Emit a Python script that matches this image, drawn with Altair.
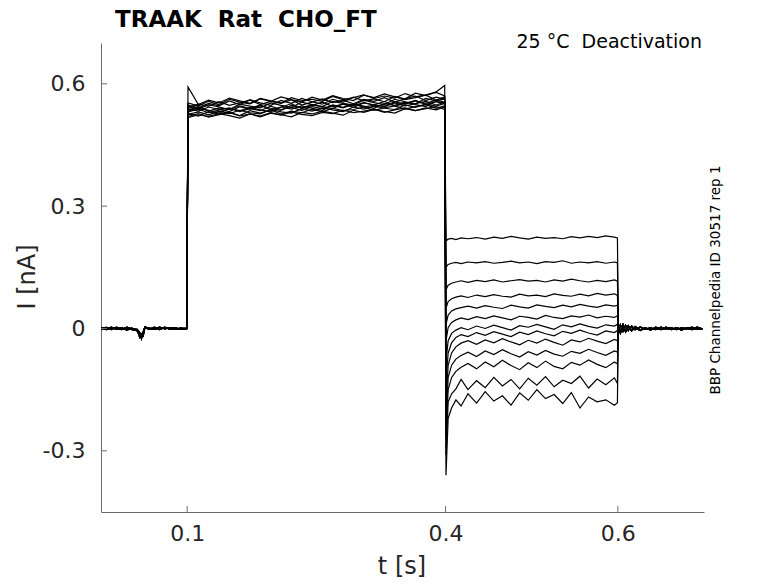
import altair as alt
import pandas as pd

# ---------------- data ----------------
t_base = [0.0, 0.006, 0.012, 0.018, 0.024, 0.030, 0.036, 0.042, 0.045, 0.047,
          0.049, 0.051, 0.056, 0.062, 0.068, 0.074, 0.080, 0.086, 0.092, 0.0995]
base_a = [0.002, -0.003, 0.003, -0.002, 0.002, -0.004, 0.001, -0.006, -0.015, -0.020,
          -0.012, 0.003, 0.001, -0.002, 0.003, -0.001, 0.002, -0.002, 0.001, 0.000]
base_b = [-0.002, 0.002, -0.003, 0.003, -0.002, 0.002, -0.003, -0.004, -0.022, -0.013,
          -0.018, 0.002, -0.002, 0.003, -0.002, 0.002, -0.001, 0.002, -0.002, 0.001]
base_c = [0.000, 0.003, -0.001, 0.001, -0.003, 0.003, -0.001, -0.002, -0.010, -0.025,
          -0.008, 0.004, -0.001, 0.001, -0.003, 0.003, -0.002, 0.001, -0.001, -0.001]

t_act = [0.101, 0.113, 0.125, 0.137, 0.149, 0.161, 0.173, 0.185, 0.197, 0.209, 0.221, 0.233, 0.245,
         0.257, 0.269, 0.281, 0.293, 0.305, 0.317, 0.329, 0.341, 0.353, 0.365, 0.377, 0.389, 0.399]
a01 = [0.548, 0.541, 0.552, 0.546, 0.558, 0.549, 0.561, 0.553, 0.547, 0.559, 0.552, 0.564, 0.556,
       0.550, 0.562, 0.555, 0.567, 0.558, 0.563, 0.556, 0.569, 0.561, 0.566, 0.572, 0.560, 0.568]
a02 = [0.536, 0.544, 0.533, 0.541, 0.537, 0.546, 0.539, 0.548, 0.536, 0.543, 0.551, 0.540, 0.547,
       0.555, 0.544, 0.550, 0.542, 0.553, 0.548, 0.557, 0.545, 0.552, 0.559, 0.549, 0.556, 0.551]
a03 = [0.527, 0.521, 0.532, 0.525, 0.530, 0.522, 0.534, 0.528, 0.536, 0.526, 0.533, 0.529, 0.538,
       0.531, 0.540, 0.534, 0.537, 0.543, 0.535, 0.541, 0.546, 0.538, 0.544, 0.549, 0.540, 0.546]
a04 = [0.542, 0.550, 0.545, 0.556, 0.547, 0.553, 0.560, 0.549, 0.557, 0.552, 0.561, 0.548, 0.555,
       0.563, 0.554, 0.560, 0.551, 0.562, 0.557, 0.566, 0.555, 0.563, 0.570, 0.559, 0.567, 0.562]
a05 = [0.531, 0.538, 0.529, 0.536, 0.541, 0.532, 0.539, 0.534, 0.545, 0.537, 0.542, 0.535, 0.544,
       0.539, 0.547, 0.541, 0.550, 0.543, 0.548, 0.544, 0.553, 0.546, 0.551, 0.557, 0.548, 0.555]
a06 = [0.520, 0.527, 0.518, 0.524, 0.530, 0.521, 0.526, 0.519, 0.528, 0.523, 0.531, 0.525, 0.522,
       0.530, 0.527, 0.535, 0.529, 0.533, 0.538, 0.530, 0.536, 0.541, 0.534, 0.539, 0.544, 0.537]
a07 = [0.553, 0.546, 0.557, 0.549, 0.562, 0.555, 0.551, 0.564, 0.558, 0.553, 0.566, 0.559, 0.562,
       0.557, 0.569, 0.561, 0.566, 0.573, 0.564, 0.570, 0.565, 0.576, 0.568, 0.573, 0.579, 0.570]
a08 = [0.539, 0.533, 0.543, 0.537, 0.532, 0.544, 0.538, 0.546, 0.540, 0.535, 0.547, 0.541, 0.549,
       0.544, 0.539, 0.551, 0.546, 0.554, 0.548, 0.545, 0.556, 0.550, 0.558, 0.552, 0.560, 0.555]
a09 = [0.525, 0.531, 0.524, 0.533, 0.527, 0.535, 0.529, 0.526, 0.537, 0.531, 0.528, 0.539, 0.533,
       0.541, 0.536, 0.532, 0.543, 0.538, 0.545, 0.540, 0.537, 0.548, 0.542, 0.550, 0.545, 0.552]
a10 = [0.544, 0.538, 0.549, 0.543, 0.537, 0.550, 0.545, 0.541, 0.553, 0.547, 0.542, 0.555, 0.549,
       0.544, 0.557, 0.552, 0.548, 0.560, 0.554, 0.549, 0.562, 0.556, 0.551, 0.564, 0.558, 0.563]
a11 = [0.533, 0.540, 0.535, 0.528, 0.539, 0.534, 0.542, 0.536, 0.531, 0.543, 0.538, 0.546, 0.540,
       0.535, 0.548, 0.542, 0.550, 0.545, 0.540, 0.552, 0.547, 0.555, 0.549, 0.544, 0.557, 0.552]
a12 = [0.517, 0.524, 0.520, 0.527, 0.522, 0.516, 0.526, 0.521, 0.529, 0.524, 0.519, 0.530, 0.526,
       0.533, 0.528, 0.523, 0.535, 0.530, 0.537, 0.532, 0.528, 0.539, 0.534, 0.541, 0.536, 0.543]
a13 = [0.592, 0.549, 0.560, 0.553, 0.565, 0.558, 0.552, 0.563, 0.557, 0.568, 0.561, 0.555, 0.567,
       0.560, 0.571, 0.564, 0.559, 0.572, 0.566, 0.575, 0.568, 0.563, 0.577, 0.571, 0.580, 0.596]

t_deact = [0.4005, 0.403, 0.407, 0.412, 0.418, 0.426, 0.436, 0.446, 0.456, 0.466, 0.476, 0.486,
           0.496, 0.506, 0.516, 0.526, 0.536, 0.546, 0.556, 0.566, 0.576, 0.586, 0.596, 0.5995]
d01 = [0.215, 0.219, 0.221, 0.218, 0.222, 0.220, 0.223, 0.219, 0.224, 0.221, 0.226, 0.222,
       0.219, 0.224, 0.221, 0.223, 0.220, 0.225, 0.222, 0.226, 0.223, 0.227, 0.224, 0.222]
d02 = [0.150, 0.157, 0.160, 0.162, 0.159, 0.163, 0.161, 0.164, 0.160, 0.162, 0.165, 0.161,
       0.163, 0.159, 0.164, 0.162, 0.166, 0.160, 0.163, 0.161, 0.164, 0.160, 0.163, 0.161]
d03 = [0.095, 0.106, 0.111, 0.114, 0.117, 0.113, 0.118, 0.115, 0.119, 0.114, 0.117, 0.120,
       0.116, 0.118, 0.114, 0.119, 0.116, 0.121, 0.117, 0.114, 0.118, 0.115, 0.119, 0.116]
d04 = [0.050, 0.066, 0.073, 0.077, 0.080, 0.076, 0.082, 0.078, 0.083, 0.079, 0.077, 0.084,
       0.080, 0.082, 0.078, 0.085, 0.081, 0.079, 0.084, 0.080, 0.086, 0.082, 0.085, 0.081]
d05 = [0.010, 0.033, 0.043, 0.048, 0.051, 0.055, 0.050, 0.056, 0.052, 0.049, 0.057, 0.053,
       0.050, 0.058, 0.054, 0.051, 0.057, 0.053, 0.059, 0.055, 0.052, 0.058, 0.055, 0.057]
d06 = [-0.030, 0.002, 0.015, 0.021, 0.026, 0.022, 0.029, 0.024, 0.031, 0.026, 0.021, 0.030,
       0.027, 0.023, 0.032, 0.027, 0.024, 0.031, 0.028, 0.033, 0.026, 0.030, 0.027, 0.031]
d07 = [-0.080, -0.030, -0.012, -0.004, 0.002, -0.003, 0.006, 0.000, 0.008, 0.002, -0.004, 0.007,
       0.003, 0.010, 0.004, -0.002, 0.009, 0.004, 0.011, 0.005, 0.001, 0.009, 0.006, 0.010]
d08 = [-0.130, -0.060, -0.035, -0.022, -0.015, -0.020, -0.010, -0.017, -0.008, -0.014, -0.020, -0.009,
       -0.015, -0.006, -0.013, -0.018, -0.007, -0.012, -0.004, -0.011, -0.016, -0.006, -0.010, -0.005]
d09 = [-0.180, -0.090, -0.060, -0.045, -0.036, -0.030, -0.039, -0.028, -0.035, -0.025, -0.033, -0.040,
       -0.029, -0.036, -0.026, -0.034, -0.041, -0.028, -0.033, -0.024, -0.031, -0.037, -0.027, -0.030]
d10 = [-0.230, -0.120, -0.090, -0.075, -0.066, -0.058, -0.069, -0.055, -0.064, -0.052, -0.062, -0.070,
       -0.057, -0.065, -0.054, -0.063, -0.068, -0.056, -0.061, -0.051, -0.059, -0.066, -0.055, -0.058]
d11 = [-0.270, -0.150, -0.120, -0.105, -0.095, -0.086, -0.099, -0.082, -0.094, -0.078, -0.091, -0.101,
       -0.084, -0.096, -0.080, -0.093, -0.099, -0.083, -0.090, -0.077, -0.088, -0.096, -0.082, -0.087]
d12 = [-0.310, -0.180, -0.160, -0.148, -0.125, -0.150, -0.128, -0.145, -0.120, -0.141, -0.125, -0.148,
       -0.122, -0.139, -0.118, -0.143, -0.127, -0.135, -0.117, -0.146, -0.124, -0.138, -0.121, -0.135]
d13 = [-0.360, -0.220, -0.195, -0.175, -0.190, -0.160, -0.183, -0.155, -0.178, -0.165, -0.188, -0.158,
       -0.176, -0.150, -0.172, -0.162, -0.184, -0.157, -0.195, -0.168, -0.180, -0.175, -0.188, -0.182]

t_tail = [0.6005, 0.603, 0.606, 0.609, 0.612, 0.616, 0.620, 0.626, 0.632, 0.638,
          0.644, 0.650, 0.656, 0.662, 0.668, 0.674, 0.680, 0.686, 0.692, 0.698]
tail_a = [0.012, -0.008, 0.010, -0.006, 0.007, -0.004, 0.005, -0.003, 0.002, -0.004,
          0.003, -0.002, 0.003, -0.003, 0.001, -0.004, 0.002, -0.002, 0.003, -0.001]
tail_b = [-0.010, 0.009, -0.007, 0.008, -0.005, 0.006, -0.003, 0.004, -0.002, 0.002,
          -0.003, 0.003, -0.001, 0.002, -0.003, 0.002, -0.001, 0.003, -0.002, 0.000]
tail_c = [0.004, -0.012, 0.006, -0.009, 0.004, -0.006, 0.002, -0.005, 0.001, -0.002,
          0.001, -0.003, 0.000, -0.002, 0.002, -0.002, 0.000, -0.003, 0.001, -0.002]

x_ticks = [0.1, 0.4, 0.6]
y_ticks = [-0.3, 0.0, 0.3, 0.6]

acts = [a01, a02, a03, a04, a05, a06, a07, a08, a09, a10, a11, a12, a13]
deacts = [d01, d02, d03, d04, d05, d06, d07, d08, d09, d10, d11, d12, d13]
bases = [base_a, base_b, base_c]
tails = [tail_a, tail_b, tail_c]

rows = []
for i in range(len(acts)):
    ts = t_base + t_act + t_deact + t_tail
    vs = bases[i % 3] + acts[i] + deacts[i] + tails[i % 3]
    for k, (t, v) in enumerate(zip(ts, vs)):
        rows.append({"trace": i, "k": k, "t": t, "I": v})
df = pd.DataFrame(rows)

# ---------------- chart ----------------
W, H = 603, 469
FONT = "DejaVu Sans"
AX = "#6b6b6b"
TXT = "#262626"

xscale = alt.Scale(domain=[0, 0.7], nice=False, zero=False)
yscale = alt.Scale(domain=[-0.45, 0.7], nice=False, zero=False)
xaxis = alt.Axis(values=x_ticks, labelExpr="'' + datum.value", title=None,
                 grid=False, ticks=False, tickSize=0, domainColor=AX, domainWidth=1,
                 labelFontSize=22, labelColor=TXT, labelFont=FONT, labelPadding=11)
yaxis = alt.Axis(values=y_ticks, labelExpr="'' + datum.value", title=None,
                 grid=False, ticks=False, tickSize=0, domainColor=AX, domainWidth=1,
                 labelFontSize=22, labelColor=TXT, labelFont=FONT, labelPadding=16)

lines = alt.Chart(df).mark_line(color="black", strokeWidth=1.2, clip=True).encode(
    x=alt.X("t:Q", scale=xscale, axis=xaxis),
    y=alt.Y("I:Q", scale=yscale, axis=yaxis),
    detail="trace:N",
    order="k:Q",
)

# inward tick marks
xt = alt.Chart(pd.DataFrame({"t": x_ticks})).mark_rule(color=AX, strokeWidth=1).encode(
    x=alt.X("t:Q", scale=xscale, axis=xaxis), y=alt.value(H), y2=alt.value(H - 6))
yt = alt.Chart(pd.DataFrame({"I": y_ticks})).mark_rule(color=AX, strokeWidth=1).encode(
    y=alt.Y("I:Q", scale=yscale, axis=yaxis), x=alt.value(0), x2=alt.value(6))

def txt(s, x, y, size, angle=0, align="center", baseline="middle", weight="normal", color=TXT):
    return alt.Chart(pd.DataFrame({"s": [s]})).mark_text(
        font=FONT, fontSize=size, angle=angle, align=align, baseline=baseline,
        fontWeight=weight, color=color).encode(
        text="s:N", x=alt.value(x), y=alt.value(y))

title = txt("TRAAK\u00a0\u00a0Rat\u00a0\u00a0CHO_FT", 14, -16, 23, align="left",
            baseline="alphabetic", weight="bold", color="black")
sub = txt("25 \u00b0C\u00a0\u00a0Deactivation", 601, 5, 19, align="right",
          baseline="alphabetic", color="black")
side = txt("BBP Channelpedia ID 30517 rep 1", 615, 237, 13.5, angle=270, color="black")
ylab = txt("I [nA]", -73, 234, 24, angle=270)
xlab = txt("t [s]", 301, 524, 24)

chart = alt.layer(lines, xt, yt, title, sub, side, ylab, xlab).properties(
    width=W, height=H,
    autosize=alt.AutoSizeParams(type="none"),
    padding={"left": 93, "top": 35, "right": 66, "bottom": 70},
    background="white",
).configure_view(stroke=None)

chart.save("out.html", embed_options={"renderer": "svg", "actions": False})
